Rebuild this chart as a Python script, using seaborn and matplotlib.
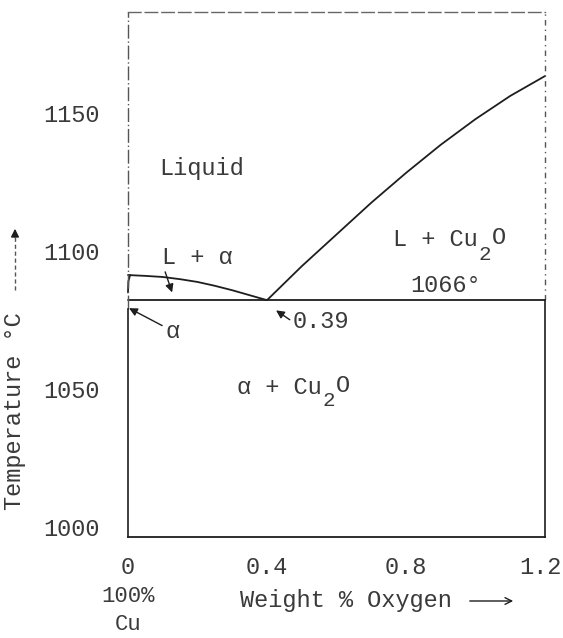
import numpy as np
import pandas as pd
import matplotlib
matplotlib.use("Agg")
import matplotlib.pyplot as plt
import matplotlib.transforms as mtransforms
import seaborn as sns
from matplotlib.lines import Line2D

# ---- data ----
liq_left_x = [0.0, 0.05, 0.10, 0.15, 0.20, 0.25, 0.30, 0.35, 0.40]
liq_left_T = [1091.3, 1091.0, 1090.6, 1089.8, 1088.8, 1087.4, 1085.8, 1084.0, 1082.2]
liq_right_x = [0.40, 0.50, 0.60, 0.70, 0.80, 0.90, 1.00, 1.10, 1.20]
liq_right_T = [1082.2, 1094.5, 1106.0, 1117.5, 1128.3, 1138.5, 1147.8, 1156.2, 1163.4]
hook_x = [0.006, 0.001, 0.0]
hook_T = [1091.3, 1089.0, 1085.0]
eutectic_T = 1082.2
eutectic_x = [0.0, 1.2]
xticks = [0.0, 0.2, 0.4, 0.6, 0.8, 1.0, 1.2]
xticklabels = ["0", "", "0.4", "", "0.8", "", "1.2"]
yticks = [1000, 1050, 1100, 1150]
yticklabels = ["1000", "1050", "1100", "1150"]

sns.set_theme(style="white")
plt.rcParams["font.family"] = ["Liberation Mono", "DejaVu Sans Mono", "DejaVu Sans"]
plt.rcParams["axes.unicode_minus"] = False

TXT = "#3a3a3a"
LN = "#1e1e1e"
FS = 17

fig = plt.figure(figsize=(5.63, 6.38), dpi=100)
ax = fig.add_axes([128/563, 1-537/638, (545-128)/563, (537-12)/638])

df = pd.concat([
    pd.DataFrame({"x": liq_left_x, "T": liq_left_T, "seg": "left"}),
    pd.DataFrame({"x": liq_right_x, "T": liq_right_T, "seg": "right"}),
    pd.DataFrame({"x": eutectic_x, "T": [eutectic_T]*2, "seg": "eut"}),
    pd.DataFrame({"x": hook_x, "T": hook_T, "seg": "hook"}),
])
sns.lineplot(data=df, x="x", y="T", units="seg", estimator=None, sort=False,
             color=LN, lw=1.3, ax=ax, legend=False, clip_on=False)

ax.set_xlim(0, 1.2)
ax.set_ylim(996.4, 1186.6)
ax.set_xticks(xticks)
ax.set_xticklabels(xticklabels)
ax.set_yticks(yticks)
ax.set_yticklabels(yticklabels)
ax.tick_params(axis="both", direction="in", colors=LN, labelcolor=TXT,
               labelsize=FS, width=1.0)
ax.tick_params(axis="x", length=9, pad=14)
ax.tick_params(axis="y", length=11, pad=20)
ax.set_xlabel("")
ax.set_ylabel("")
# nudge last x tick label so it stays inside the figure
lab = ax.get_xticklabels()[-1]
lab.set_transform(lab.get_transform() + mtransforms.ScaledTranslation(-5/100, 0, fig.dpi_scale_trans))

# frame styling (scanned drawing: broken upper frame)
ax.spines["bottom"].set_color(LN); ax.spines["bottom"].set_linewidth(1.3)
ax.spines["top"].set_color("#666666"); ax.spines["top"].set_linewidth(1.0)
ax.spines["top"].set_linestyle((0, (9, 3)))
ax.spines["left"].set_color(LN); ax.spines["left"].set_linewidth(1.2)
ax.spines["left"].set_bounds(996.4, 1079)
ax.spines["right"].set_color(LN); ax.spines["right"].set_linewidth(1.2)
ax.spines["right"].set_bounds(996.4, eutectic_T)
ylo, yhi = ax.get_ylim()
ax.axvline(0, ymin=(1079-ylo)/(yhi-ylo), ymax=1, color="#555555", lw=1.0,
           ls=(0, (10, 2, 1, 2)), clip_on=False)
ax.axvline(1.2, ymin=(eutectic_T-ylo)/(yhi-ylo), ymax=1, color="#555555", lw=1.0,
           ls=(0, (4, 3, 1, 3)), clip_on=False)

CW = 0.6 * FS  # monospace char width in points

def cu2o(x, y, prefix, drop):
    ax.text(x, y, prefix + "Cu", fontsize=FS, color=TXT, ha="left", va="center")
    n = len(prefix) + 2
    ax.annotate("2", xy=(x, y), xytext=(n*CW + 0.5, -drop), textcoords="offset points",
                fontsize=FS-2, color=TXT, ha="left", va="center")
    ax.annotate("O", xy=(x, y), xytext=(n*CW + 0.6*(FS-2) + 1, 2), textcoords="offset points",
                fontsize=FS, color=TXT, ha="left", va="center")

# region labels
ax.text(0.089, 1130, "Liquid", fontsize=FS, color=TXT, ha="left", va="center")
cu2o(0.763, 1104, "L + ", 10.5)
ax.text(0.915, 1087.5, "1066°", fontsize=FS, color=TXT, ha="center", va="center")
cu2o(0.314, 1050.4, "α + ", 9)

arw = dict(arrowstyle="-|>", color=LN, lw=1.0, mutation_scale=12, shrinkA=0, shrinkB=0)
ax.annotate("L + α", xy=(0.127, 1085.0), xytext=(0.097, 1097.8),
            fontsize=FS, color=TXT, ha="left", va="center",
            arrowprops=dict(arw, relpos=(0, 0.3)))
ax.annotate("α", xy=(0.003, 1079.3), xytext=(0.128, 1070.7),
            fontsize=FS, color=TXT, ha="center", va="center",
            arrowprops=dict(arw, relpos=(0, 0.7)))
ax.annotate("0.39", xy=(0.426, 1078.5), xytext=(0.475, 1074.3),
            fontsize=FS, color=TXT, ha="left", va="center",
            arrowprops=dict(arw, relpos=(0, 0.5)))

# axis titles
fig.text(15/563, 1-411/638, "Temperature °C", rotation=90, fontsize=FS,
         color=TXT, ha="center", va="center")
fig.add_artist(Line2D([15/563, 15/563], [1-290/638, 1-236/638],
                      transform=fig.transFigure, color="#555555", lw=1.0, ls=(0, (3, 2))))
fig.add_artist(matplotlib.patches.FancyArrowPatch(
    (15/563, 1-240/638), (15/563, 1-226/638), transform=fig.transFigure,
    arrowstyle="-|>", mutation_scale=12, color=LN, lw=1.0))

fig.text(240/563, 1-600/638, "Weight % Oxygen", fontsize=FS, color=TXT,
         ha="left", va="center")
fig.add_artist(matplotlib.patches.FancyArrowPatch(
    (467/563, 1-601/638), (516/563, 1-601/638), transform=fig.transFigure,
    arrowstyle="->", mutation_scale=12, color=LN, lw=1.0))
fig.text(128/563, 1-597/638, "100%", fontsize=FS-1, color=TXT, ha="center", va="center")
fig.text(128/563, 1-625/638, "Cu", fontsize=FS-1, color=TXT, ha="center", va="center")

fig.savefig("out.png", dpi=100)
